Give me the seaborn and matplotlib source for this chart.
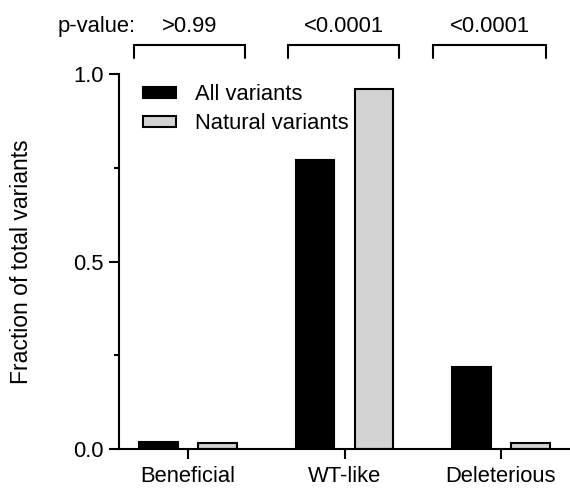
import numpy as np
import pandas as pd
import matplotlib
matplotlib.use("Agg")
import matplotlib.pyplot as plt
from matplotlib.transforms import blended_transform_factory
from matplotlib.patches import Patch
import seaborn as sns

# ---- data ----
categories = ["Beneficial", "WT-like", "Deleterious"]
series_names = ["All variants", "Natural variants"]
all_variants = [0.02, 0.77, 0.22]
natural_variants = [0.015, 0.96, 0.015]
p_values = [">0.99", "<0.0001", "<0.0001"]
y_ticks = [0.0, 0.5, 1.0]
y_tick_labels = ["0.0", "0.5", "1.0"]

df = pd.DataFrame({
    "category": categories * 2,
    "set": [series_names[0]] * 3 + [series_names[1]] * 3,
    "fraction": all_variants + natural_variants,
})

sns.set_style("ticks")
plt.rcParams["font.family"] = ["Liberation Sans", "DejaVu Sans"]
plt.rcParams["text.color"] = "black"
plt.rcParams["axes.labelcolor"] = "black"
plt.rcParams["xtick.color"] = "black"
plt.rcParams["ytick.color"] = "black"

FS = 15.8
fig = plt.figure(figsize=(5.7, 4.9), dpi=100)
W, H = 570, 490
ax = fig.add_axes([119 / W, 1 - 449 / H, 1 - 119 / W, (449 - 74) / H])

colors = ["black", "#d3d3d3"]
sns.barplot(data=df, x="category", y="fraction", hue="set", order=categories,
            hue_order=series_names, palette=colors, width=0.754, gap=0.355,
            edgecolor="black", linewidth=1.5, saturation=1, legend=False, ax=ax)

ax.set_xlim(-0.441, 2.441)
ax.set_ylim(0, 1.0)
ax.set_yticks(y_ticks)
ax.set_yticklabels(y_tick_labels)
ax.set_yticks([0.25, 0.75], minor=True)
ax.set_xlabel("")
ax.set_ylabel("")

for s in ["top", "right"]:
    ax.spines[s].set_visible(False)
for s in ["left", "bottom"]:
    ax.spines[s].set_linewidth(1.5)
    ax.spines[s].set_color("black")

ax.tick_params(axis="both", which="major", length=7.2, width=1.5, color="black",
               labelsize=FS, labelcolor="black")
ax.tick_params(axis="y", which="major", pad=3.6)
ax.tick_params(axis="x", which="major", pad=5)
ax.tick_params(axis="y", which="minor", length=3.6, width=1.5, color="black")
ax.tick_params(axis="x", which="minor", length=0)

fig.text(22 / W, 1 - 261.5 / H, "Fraction of total variants", rotation=90,
         ha="center", va="center", fontsize=16.5, color="black")

# legend
handles = [Patch(facecolor=c, edgecolor="black", linewidth=1.5) for c in colors]
leg = ax.legend(handles, series_names, loc="upper left", frameon=False,
                bbox_to_anchor=(143 / W, 1 - 84 / H), bbox_transform=fig.transFigure,
                fontsize=FS, handlelength=1.5, handleheight=0.38,
                handletextpad=0.85, labelspacing=0.38, borderpad=0, borderaxespad=0)
for t in leg.get_texts():
    t.set_color("black")

# p-value brackets
trans = blended_transform_factory(ax.transData, fig.transFigure)
bracket_spans = [(-0.345, 0.364), (0.639, 1.348), (1.565, 2.288)]
y_top = 1 - 45 / H
y_bot = 1 - 58 / H
for (x0, x1), p in zip(bracket_spans, p_values):
    ax.plot([x0, x0, x1, x1], [y_bot, y_top, y_top, y_bot], color="black",
            lw=1.5, transform=trans, clip_on=False, solid_joinstyle="miter")
    ax.text((x0 + x1) / 2, 1 - 32 / H, p, transform=trans, ha="center",
            va="baseline", fontsize=FS, color="black")
fig.text(96.5 / W, 1 - 32 / H, "p-value:", ha="center", va="baseline",
         fontsize=FS, color="black")

fig.savefig("out.png", dpi=100)
